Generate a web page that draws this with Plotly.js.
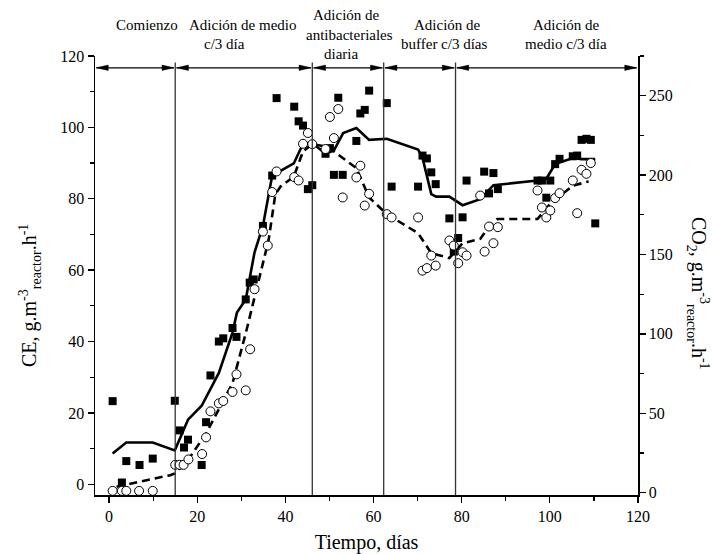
<!DOCTYPE html>
<html>
<head>
<meta charset="utf-8">
<script src="https://cdn.plot.ly/plotly-3.0.1.min.js"></script>
<style>html,body{margin:0;padding:0;background:#fff;}</style>
</head>
<body>
<div id="chart" style="width:714px;height:554px;"></div>
<script>
// Filled squares: CE (left axis)
const sqDays = [0.8, 2.9, 3.9, 6.9, 9.9, 14.9, 16.0, 17.0, 17.9, 21.0, 22.0, 23.0, 24.9, 25.9, 28.0, 28.9, 31.0, 31.9, 32.8, 34.9, 37.0, 38.0, 42.0, 43.0, 44.0, 45.1, 46.1, 49.1, 50.1, 51.0, 52.0, 53.0, 56.1, 57.0, 58.0, 59.0, 63.0, 64.1, 70.1, 71.1, 72.1, 73.1, 74.1, 77.2, 78.2, 79.2, 80.2, 81.1, 85.1, 86.2, 87.2, 88.2, 97.2, 98.2, 99.2, 100.1, 101.2, 102.2, 105.2, 106.2, 107.2, 108.3, 109.3, 110.3];
const sqCE = [23.3, 0.5, 6.5, 5.4, 7.2, 23.4, 15.1, 10.3, 12.5, 5.4, 17.4, 30.5, 40.0, 40.9, 43.8, 41.3, 51.8, 56.5, 57.4, 72.4, 86.5, 108.2, 105.8, 101.7, 100.5, 82.7, 83.8, 92.6, 94.2, 86.7, 108.3, 86.7, 96.2, 103.9, 104.9, 110.3, 106.8, 83.4, 83.4, 92.1, 91.3, 87.4, 84.1, 74.5, 65.2, 69.0, 74.8, 85.1, 87.6, 81.5, 87.2, 82.7, 85.1, 85.1, 80.3, 85.1, 89.7, 91.2, 91.9, 92.1, 96.5, 96.8, 96.5, 73.1];

// Open circles: CO2 (right axis)
const cDays = [0.8, 2.9, 3.9, 6.8, 9.9, 15.0, 16.0, 16.9, 18.0, 21.1, 22.0, 23.0, 24.9, 25.9, 28.0, 28.9, 31.0, 32.0, 33.0, 34.9, 36.0, 37.0, 38.0, 42.0, 43.0, 44.0, 45.1, 46.1, 49.1, 50.1, 51.0, 52.0, 53.0, 56.1, 57.0, 58.0, 59.0, 63.0, 64.1, 70.1, 71.1, 72.1, 73.1, 74.1, 77.2, 78.2, 79.2, 80.2, 81.1, 84.2, 85.2, 86.2, 87.2, 88.2, 97.2, 98.2, 99.2, 100.1, 101.2, 102.2, 105.2, 106.2, 107.2, 108.3, 109.3];
const cCO2 = [1.1, 1.1, 1.1, 1.1, 1.1, 17.5, 17.5, 17.5, 20.9, 24.3, 34.8, 51.2, 56.2, 57.7, 63.4, 74.5, 64.4, 90.3, 128.1, 164.4, 155.6, 189.3, 202.3, 198.7, 196.6, 219.7, 226.5, 219.5, 216.4, 236.6, 223.3, 241.6, 185.9, 198.5, 205.9, 180.8, 188.2, 175.4, 173.3, 173.3, 139.8, 141.4, 149.3, 143.0, 158.8, 155.6, 144.5, 151.4, 149.3, 187.1, 151.8, 167.6, 157.1, 167.2, 190.3, 179.6, 173.3, 177.7, 185.5, 188.6, 196.6, 176.0, 203.3, 200.8, 207.6];

// Solid trend line (CE)
const lineDays = [0.8, 3.9, 9.9, 14.9, 17.9, 21.0, 24.9, 28.0, 29.0, 31.0, 33.0, 34.9, 37.0, 38.9, 41.9, 44.0, 46.1, 49.1, 51.0, 53.1, 56.1, 59.0, 63.0, 70.1, 71.1, 73.1, 74.2, 77.2, 80.2, 84.2, 87.2, 97.2, 99.2, 101.2, 105.2, 107.2, 110.3];
const lineCE = [8.6, 11.7, 11.7, 9.5, 18.1, 22.0, 31.2, 42.5, 48.1, 51.8, 65.0, 72.4, 86.5, 87.9, 89.9, 95.4, 95.6, 92.6, 93.5, 98.4, 99.8, 96.5, 96.8, 93.8, 91.5, 81.3, 80.6, 80.6, 78.2, 79.9, 83.8, 85.1, 85.6, 89.7, 91.4, 91.1, 91.1];

// Dashed trend line (CO2)
const dashDays = [1.7, 13.9, 14.9, 17.9, 22.0, 25.9, 28.0, 31.0, 32.8, 36.2, 37.7, 38.9, 41.9, 44.0, 46.1, 49.1, 51.0, 56.1, 59.0, 63.0, 70.1, 73.1, 77.2, 80.2, 84.2, 86.2, 88.1, 97.2, 100.2, 105.2, 108.8];
const dashCO2 = [3.7, 11.0, 12.1, 20.5, 37.3, 58.3, 68.9, 100.4, 121.4, 159.2, 187.6, 192.8, 199.0, 214.9, 219.5, 218.0, 214.9, 204.4, 185.9, 175.4, 163.4, 150.8, 147.7, 157.1, 159.8, 167.6, 172.3, 172.3, 182.3, 193.3, 196.0];

// Phase boundaries (days) and labels
const phaseBounds = [-3.2, 15.0, 46.1, 62.3, 78.6, 120];
const phaseLabelLines = [
  {text: "Comienzo", x: 8.7, row: 0},
  {text: "Adición de medio", x: 30.3, row: 0},
  {text: "c/3 día", x: 26.1, row: 1},
  {text: "Adición de", x: 53.9, row: -0.5},
  {text: "antibacteriales", x: 54.6, row: 0.5},
  {text: "diaria", x: 52.5, row: 1.5},
  {text: "Adición de", x: 76.8, row: 0},
  {text: "buffer c/3 días", x: 76.1, row: 1},
  {text: "Adición de", x: 103.8, row: 0},
  {text: "medio c/3 día", x: 103.6, row: 1}
];

const arrowLevel = 116.7;
const headLen = 2.7;   // days
const headHalf = 0.75; // CE units
const serif = "Liberation Serif";

const traces = [
  {x: lineDays, y: lineCE, type: 'scatter', mode: 'lines', line: {color: '#000', width: 2.6}, yaxis: 'y', hoverinfo: 'skip'},
  {x: dashDays, y: dashCO2, type: 'scatter', mode: 'lines', line: {color: '#000', width: 2.6, dash: '8px,5px'}, yaxis: 'y2', hoverinfo: 'skip'},
  {x: sqDays, y: sqCE, type: 'scatter', mode: 'markers', marker: {symbol: 'square', size: 8, color: '#000'}, yaxis: 'y'},
  {x: cDays, y: cCO2, type: 'scatter', mode: 'markers', marker: {symbol: 'circle', size: 9, color: '#fff', line: {color: '#000', width: 1}}, yaxis: 'y2'}
];

const shapes = [];
for (let i = 1; i < phaseBounds.length - 1; i++) {
  shapes.push({type: 'line', xref: 'x', yref: 'y', x0: phaseBounds[i], x1: phaseBounds[i], y0: -3, y1: arrowLevel + 1.5, line: {color: '#333', width: 1.3}});
}
for (let i = 0; i < phaseBounds.length - 1; i++) {
  const a = phaseBounds[i] + 0.3, b = phaseBounds[i + 1] - 0.3, y = arrowLevel;
  shapes.push({type: 'line', xref: 'x', yref: 'y', x0: a, x1: b, y0: y, y1: y, line: {color: '#000', width: 1.3}});
  shapes.push({type: 'path', xref: 'x', yref: 'y', fillcolor: '#000', line: {color: '#000', width: 0.5},
    path: `M ${b} ${y} L ${b - headLen} ${y + headHalf} L ${b - headLen} ${y - headHalf} Z`});
  shapes.push({type: 'path', xref: 'x', yref: 'y', fillcolor: '#000', line: {color: '#000', width: 0.5},
    path: `M ${a} ${y} L ${a + headLen} ${y + headHalf} L ${a + headLen} ${y - headHalf} Z`});
}

const annotations = [];
phaseLabelLines.forEach(l => {
  annotations.push({
    xref: 'x', yref: 'paper', x: l.x, y: (495 - (25 + 19.3 * l.row)) / 439,
    text: l.text, showarrow: false, xanchor: 'center', yanchor: 'middle',
    font: {family: serif, size: 15, color: '#000'}
  });
});
annotations.push({
  xref: 'paper', yref: 'paper', x: (30 - 95) / 543, y: (495 - 296) / 439,
  text: 'CE, g.m<sup>-3</sup><sub>reactor</sub>.h<sup>-1</sup>', textangle: -90,
  showarrow: false, xanchor: 'center', yanchor: 'middle',
  font: {family: serif, size: 20, color: '#000'}
});
annotations.push({
  xref: 'paper', yref: 'paper', x: (698 - 95) / 543, y: (495 - 293) / 439,
  text: 'CO<sub>2</sub>, g.m<sup>-3</sup><sub>reactor</sub>.h<sup>-1</sup>', textangle: 90,
  showarrow: false, xanchor: 'center', yanchor: 'middle',
  font: {family: serif, size: 20, color: '#000'}
});

const axisCommon = {
  showgrid: false, zeroline: false, showline: true, linecolor: '#000', linewidth: 1.5,
  ticks: 'outside', ticklen: 6, tickwidth: 1.3, tickcolor: '#000',
  tickfont: {family: serif, size: 16, color: '#000'}
};

const layout = {
  width: 714, height: 554,
  margin: {l: 95, r: 76, t: 56, b: 59},
  paper_bgcolor: '#fff', plot_bgcolor: '#fff',
  showlegend: false,
  font: {family: serif, color: '#000'},
  xaxis: Object.assign({}, axisCommon, {
    range: [-3.2, 120], tick0: 0, dtick: 20,
    minor: {dtick: 10, ticks: 'outside', ticklen: 4, tickwidth: 1.3, tickcolor: '#000'},
    title: {text: 'Tiempo, días', font: {family: serif, size: 20, color: '#000'}, standoff: 11}
  }),
  yaxis: Object.assign({}, axisCommon, {
    range: [-3, 120], tick0: 0, dtick: 20,
    minor: {dtick: 10, ticks: 'outside', ticklen: 4, tickwidth: 1.3, tickcolor: '#000'}
  }),
  yaxis2: Object.assign({}, axisCommon, {
    overlaying: 'y', side: 'right', anchor: 'x',
    range: [-1.5, 275], tick0: 0, dtick: 50,
    minor: {dtick: 25, ticks: 'outside', ticklen: 4, tickwidth: 1.3, tickcolor: '#000'}
  }),
  shapes: shapes,
  annotations: annotations
};

Plotly.newPlot('chart', traces, layout, {displayModeBar: false, staticPlot: true});
</script>
</body>
</html>
